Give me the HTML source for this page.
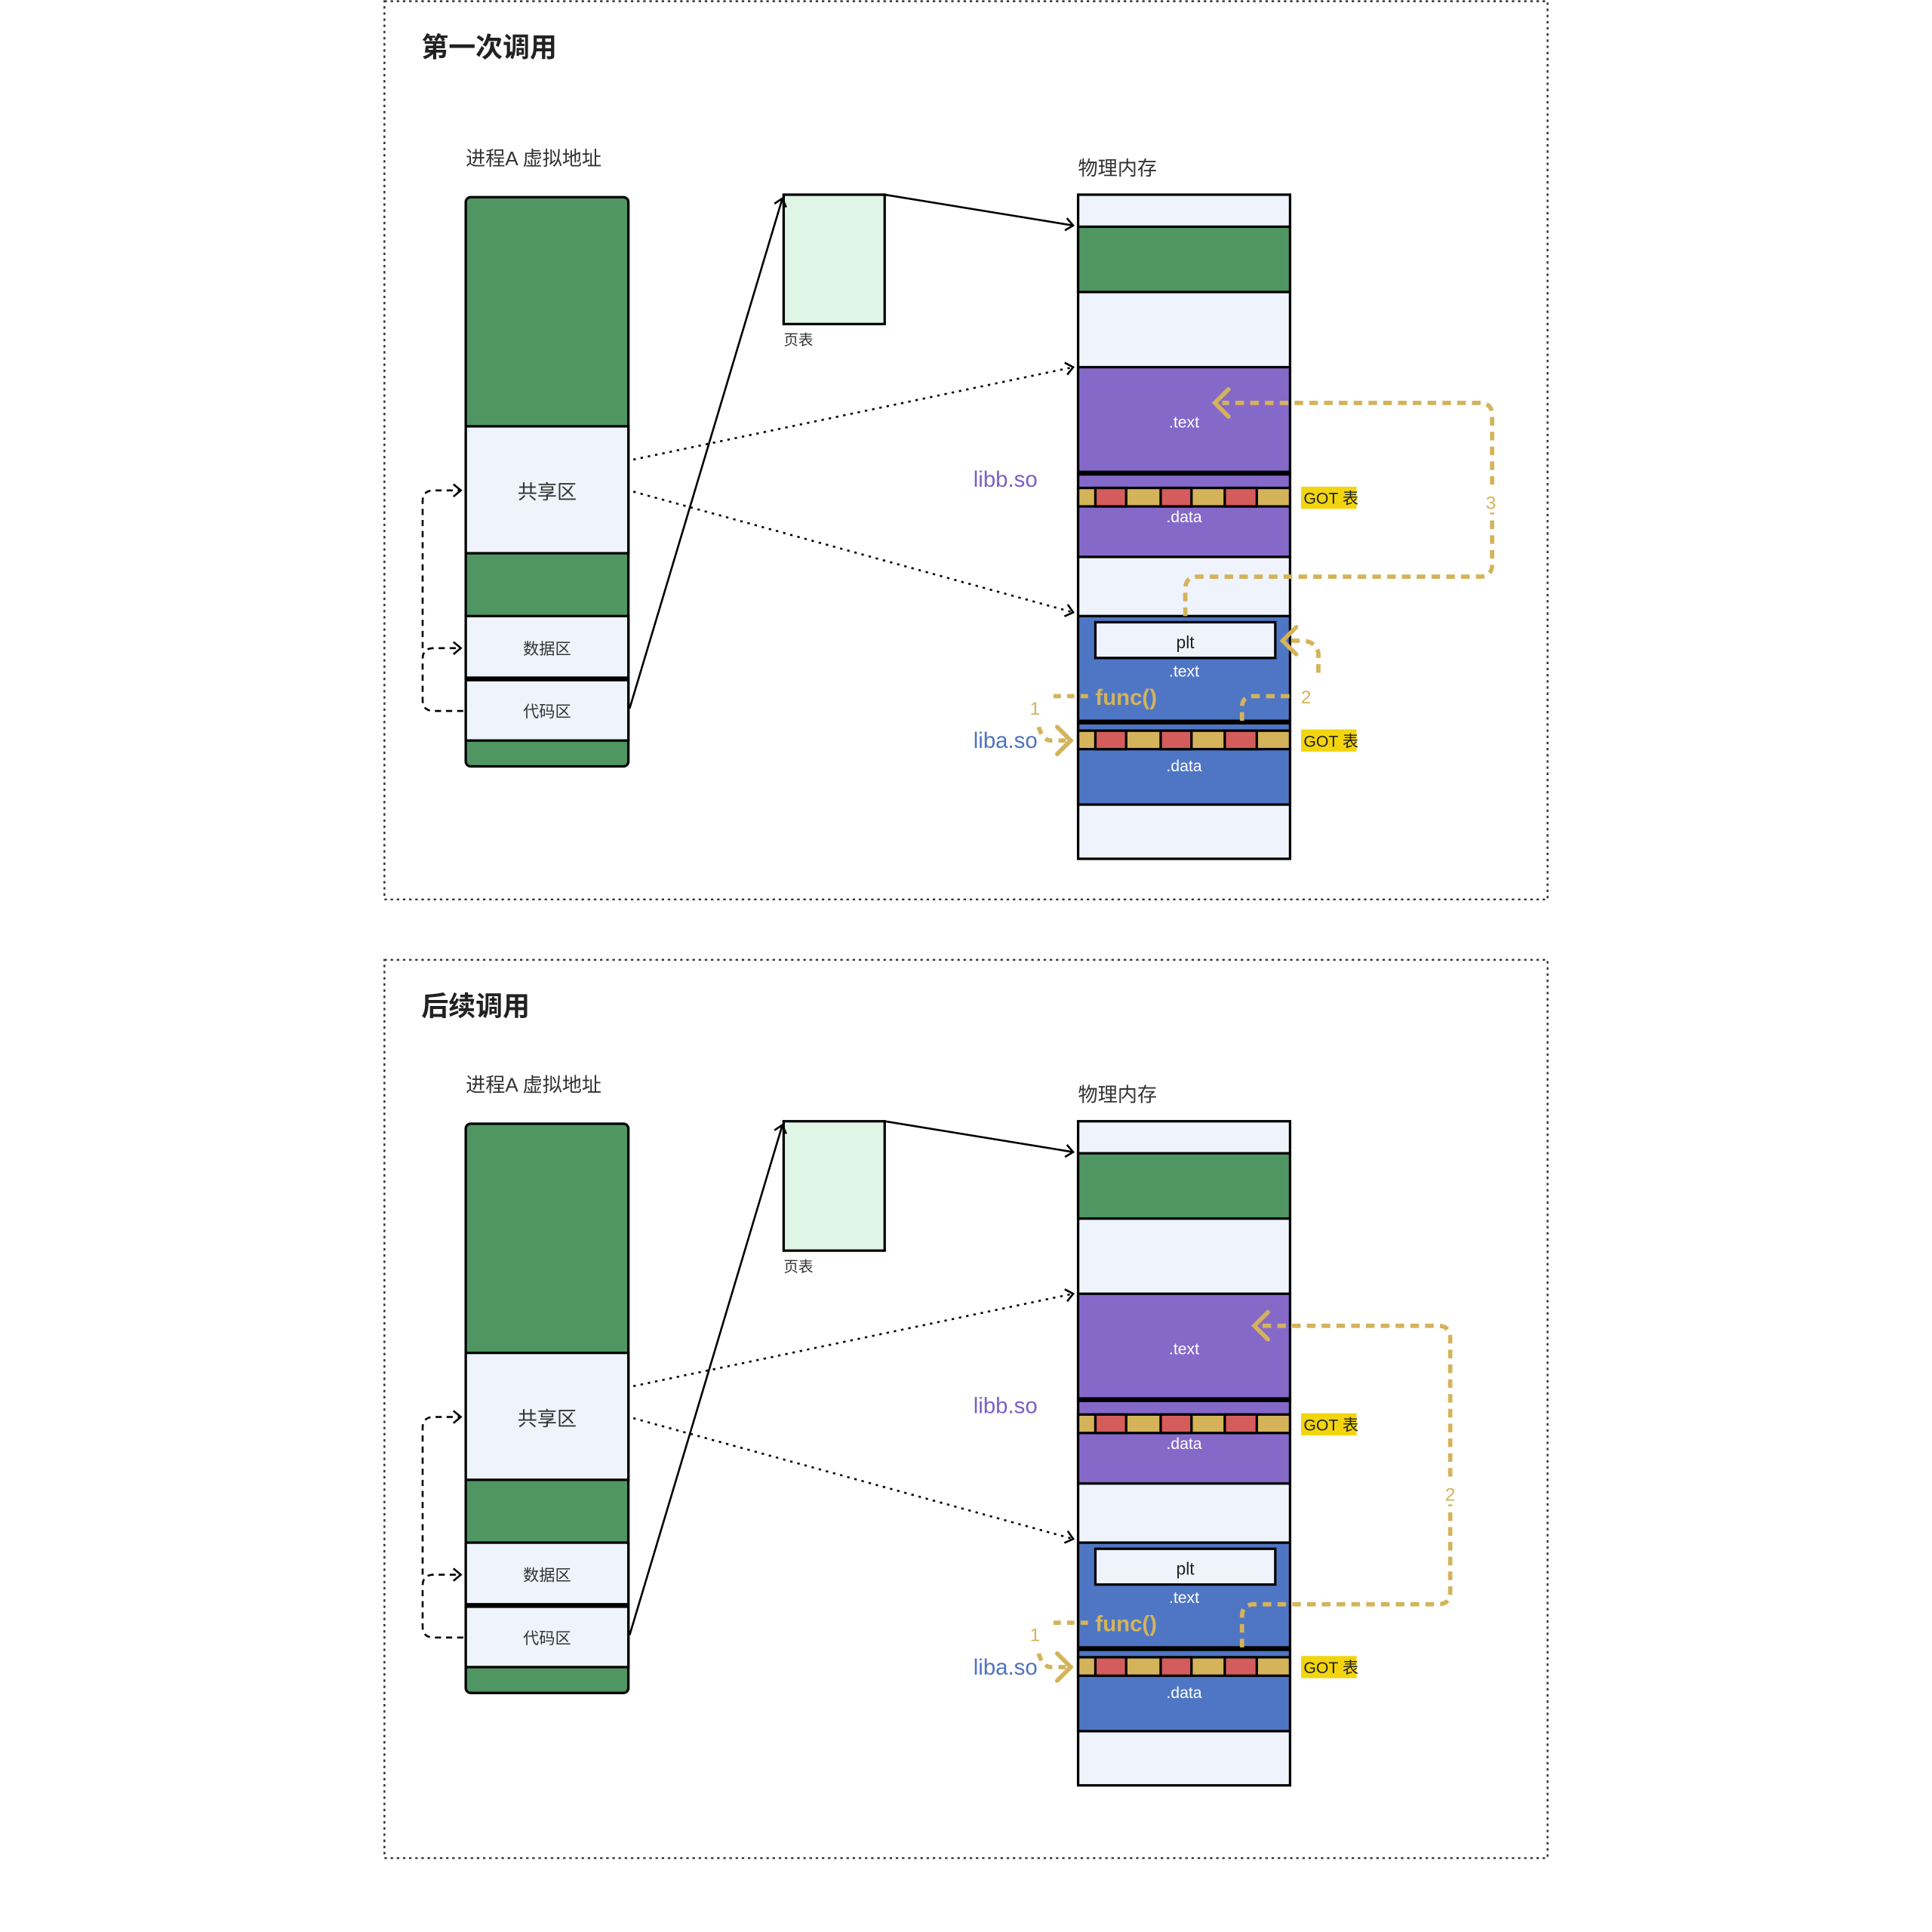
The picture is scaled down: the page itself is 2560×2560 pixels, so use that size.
<!DOCTYPE html>
<html><head><meta charset="utf-8"><style>html,body{margin:0;padding:0;background:#fff}svg{display:block}text{font-family:"Liberation Sans","Noto Sans CJK SC",sans-serif}</style></head>
<body>
<svg xmlns="http://www.w3.org/2000/svg" width="2560" height="2560" viewBox="0 0 1568 1568">
<defs>
<marker id="ab" markerWidth="12" markerHeight="12" refX="9" refY="6" orient="auto" markerUnits="userSpaceOnUse"><path d="M3 1 L9 6 L3 11" fill="none" stroke="#000" stroke-width="1.6"/></marker>
<g id="got">
<rect x="875" y="0" width="172" height="15" fill="#d4b35a" stroke="#000" stroke-width="2"/>
<rect x="889" y="0" width="25" height="15" fill="#d45c5c" stroke="#000" stroke-width="2"/>
<rect x="942" y="0" width="25" height="15" fill="#d45c5c" stroke="#000" stroke-width="2"/>
<rect x="994" y="0" width="26" height="15" fill="#d45c5c" stroke="#000" stroke-width="2"/>
<rect x="1056" y="-1" width="45" height="18" fill="#f2d50f"/>
<text x="1058" y="13" font-size="13" fill="#222">GOT 表</text>
</g>
<g id="panel">
<text x="378" y="134" font-size="16" fill="#333">进程A 虚拟地址</text>
<!-- virtual box -->
<rect x="378" y="160" width="132" height="462" rx="4" fill="#4f9663" stroke="#000" stroke-width="2"/>
<rect x="378" y="346" width="132" height="103" fill="#eef3fc" stroke="#000" stroke-width="2"/>
<rect x="378" y="500" width="132" height="50" fill="#eef3fc" stroke="#000" stroke-width="2"/>
<rect x="378" y="552" width="132" height="49" fill="#eef3fc" stroke="#000" stroke-width="2"/>
<line x1="378" y1="551" x2="510" y2="551" stroke="#000" stroke-width="3"/>
<text x="444" y="405" font-size="16" fill="#333" text-anchor="middle">共享区</text>
<text x="444" y="531" font-size="13" fill="#333" text-anchor="middle">数据区</text>
<text x="444" y="582" font-size="13" fill="#333" text-anchor="middle">代码区</text>
<!-- left dashed -->
<path d="M376 577 H352 Q343 577 343 568 V535 Q343 526 352 526 H374" fill="none" stroke="#000" stroke-width="1.6" stroke-dasharray="5,4" marker-end="url(#ab)"/>
<path d="M343 526 V407 Q343 398 352 398 H374" fill="none" stroke="#000" stroke-width="1.6" stroke-dasharray="5,4" marker-end="url(#ab)"/>
<!-- page table -->
<rect x="636" y="158" width="82" height="105" fill="#dff5e6" stroke="#000" stroke-width="2"/>
<text x="636" y="280" font-size="12" fill="#333">页表</text>
<line x1="511" y1="575" x2="635" y2="161" stroke="#000" stroke-width="1.6" marker-end="url(#ab)"/>
<line x1="718" y1="158" x2="871" y2="183" stroke="#000" stroke-width="1.6" marker-end="url(#ab)"/>
<line x1="514" y1="373" x2="871" y2="298" stroke="#000" stroke-width="1.6" stroke-dasharray="2,4" marker-end="url(#ab)"/>
<line x1="514" y1="399" x2="871" y2="497" stroke="#000" stroke-width="1.6" stroke-dasharray="2,4" marker-end="url(#ab)"/>
<!-- physical -->
<text x="875" y="142" font-size="16" fill="#333">物理内存</text>
<rect x="875" y="158" width="172" height="539" fill="#eef3fc" stroke="#000" stroke-width="2"/>
<rect x="875" y="184" width="172" height="53" fill="#4f9663" stroke="#000" stroke-width="2"/>
<rect x="875" y="298" width="172" height="154" fill="#8569c9" stroke="#000" stroke-width="2"/>
<line x1="875" y1="384" x2="1047" y2="384" stroke="#000" stroke-width="4"/>
<text x="961" y="347" font-size="13" fill="#fff" text-anchor="middle">.text</text>
<use href="#got" y="396"/>
<text x="961" y="424" font-size="13" fill="#fff" text-anchor="middle">.data</text>
<rect x="875" y="500" width="172" height="153" fill="#4f76c4" stroke="#000" stroke-width="2"/>
<rect x="889" y="505" width="146" height="29" fill="#eef3fc" stroke="#000" stroke-width="2"/>
<text x="962" y="526" font-size="14" fill="#222" text-anchor="middle">plt</text>
<text x="961" y="549" font-size="13" fill="#fff" text-anchor="middle">.text</text>
<line x1="875" y1="586" x2="1047" y2="586" stroke="#000" stroke-width="4"/>
<use href="#got" y="593"/>
<text x="961" y="626" font-size="13" fill="#fff" text-anchor="middle">.data</text>
<text x="889" y="572" font-size="18" fill="#d4b35a" font-weight="bold">func()</text>
<text x="790" y="395" font-size="18" fill="#7b5fc4">libb.so</text>
<text x="790" y="607" font-size="18" fill="#4f72c0">liba.so</text>
<text x="840" y="580" font-size="15" fill="#d4b35a" text-anchor="middle">1</text>
<path d="M855 565 H885" stroke="#d4b35a" stroke-width="3.5" stroke-dasharray="6,5" fill="none"/>
<path d="M843 590 Q846 600 852 601 H866" stroke="#d4b35a" stroke-width="3.5" stroke-dasharray="6,5" fill="none"/>
<path d="M858 590 L869 601 L858 612" stroke="#d4b35a" stroke-width="3.5" fill="none" stroke-linecap="round"/>
</g>
</defs>
<rect x="312" y="1" width="944" height="729" fill="none" stroke="#333" stroke-width="1.5" stroke-dasharray="2,3"/>
<rect x="312" y="779" width="944" height="729" fill="none" stroke="#333" stroke-width="1.5" stroke-dasharray="2,3"/>
<text x="342" y="46" font-size="22" font-weight="bold" fill="#222">第一次调用</text>
<text x="342" y="824" font-size="22" font-weight="bold" fill="#222">后续调用</text>
<use href="#panel"/>
<use href="#panel" y="752"/>
<!-- panel 1 gold -->
<g stroke="#d4b35a" stroke-width="3.5" fill="none">
<path d="M962 500 V478 Q962 468 972 468 H1201 Q1211 468 1211 458 V337 Q1211 327 1201 327 H992" stroke-dasharray="7,5"/>
<path d="M997 316 L986 327 L997 338" stroke-linecap="round"/>
<path d="M1008 585 V574 Q1008 565 1017 565 H1047" stroke-dasharray="7,5"/>
<path d="M1070 546 V530 Q1068 521 1058 520 H1044" stroke-dasharray="7,5"/>
<path d="M1052 509 L1041 520 L1052 531" stroke-linecap="round"/>
</g>
<rect x="1203" y="398" width="16" height="18" fill="#fff"/>
<text x="1210" y="413" font-size="15" fill="#d4b35a" text-anchor="middle">3</text>
<text x="1060" y="571" font-size="15" fill="#d4b35a" text-anchor="middle">2</text>
<!-- panel 2 gold -->
<g stroke="#d4b35a" stroke-width="3.5" fill="none">
<path d="M1008 1337 V1312 Q1008 1302 1018 1302 H1167 Q1177 1302 1177 1292 V1086 Q1177 1076 1167 1076 H1024" stroke-dasharray="7,5"/>
<path d="M1029 1065 L1018 1076 L1029 1087" stroke-linecap="round"/>
</g>
<rect x="1169" y="1203" width="16" height="18" fill="#fff"/>
<text x="1177" y="1218" font-size="15" fill="#d4b35a" text-anchor="middle">2</text>
</svg>
</body></html>
